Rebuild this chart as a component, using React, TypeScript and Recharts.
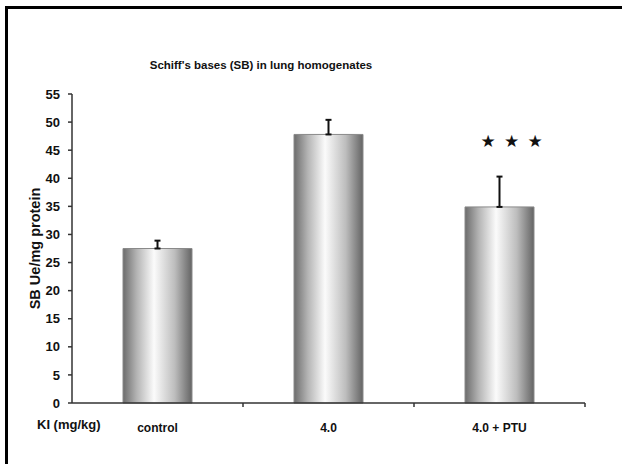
import React from 'react';
import { BarChart, Bar, XAxis, YAxis, ErrorBar, ReferenceDot } from 'recharts';

const groups = ['control', '4.0', '4.0 + PTU'];
const sbValues = [27.5, 47.8, 34.9];
const sbErrors = [1.4, 2.6, 5.4];
const yTicks = [0, 5, 10, 15, 20, 25, 30, 35, 40, 45, 50, 55];
const starGroup = '4.0 + PTU';
const starLevel = 46.7;

const data = groups.map((g, i) => ({ group: g, sb: sbValues[i], err: [0, sbErrors[i]] }));

const font = '"Liberation Sans", Arial, sans-serif';

// category label with the boundary tick drawn at the right edge of each band
const GroupTick = (props: any) => {
  const { x, y, payload, width, visibleTicksCount } = props;
  const half = payload.offset ?? width / visibleTicksCount / 2;
  return (
    <g>
      <line x1={x + half} y1={y - 20} x2={x + half} y2={y - 16} stroke="#333" strokeWidth={1.5} />
      <text x={x} y={y} dy="0.71em" textAnchor="middle" fontSize={12} fontWeight="bold" fill="#111">
        {payload.value}
      </text>
    </g>
  );
};

const Stars = (props: any) => {
  const { cx, cy } = props;
  return (
    <g>
      {[-1, 0, 1].map((k) => (
        <text key={k} x={cx + 12 + k * 23.5} y={cy} dy="0.35em" textAnchor="middle" fontSize={17} fill="#111" fontFamily="DejaVu Sans">
          ★
        </text>
      ))}
    </g>
  );
};

const App: React.FC = () => {
  return (
    <div style={{ position: 'absolute', left: 0, top: 0, width: 622, height: 464, overflow: 'hidden', background: '#fff', fontFamily: font }}>
      <div style={{ position: 'absolute', left: 5, top: 6, width: 640, height: 480, borderTop: '3px solid #000', borderLeft: '3px solid #000' }} />
      <div style={{ position: 'absolute', left: 0, width: 522, top: 58, textAlign: 'center', fontSize: 11.5, fontWeight: 'bold', lineHeight: '15px', color: '#111' }}>
        Schiff's bases (SB) in lung homogenates
      </div>
      <div style={{ position: 'absolute', left: 37, top: 417, fontSize: 13, fontWeight: 'bold', lineHeight: '16px', color: '#111' }}>
        KI (mg/kg)
      </div>
      <div style={{ position: 'absolute', left: 0, top: 0 }}>
        <BarChart width={622} height={464} data={data} margin={{ top: 94, right: 37, bottom: 0, left: 0 }}>
          <defs>
            <linearGradient id="barShade" x1="0" y1="0" x2="1" y2="0">
              <stop offset="0%" stopColor="#6c6c6c" />
              <stop offset="20%" stopColor="#b4b4b4" />
              <stop offset="45%" stopColor="#fbfbfb" />
              <stop offset="75%" stopColor="#bdbdbd" />
              <stop offset="100%" stopColor="#646464" />
            </linearGradient>
          </defs>
          <XAxis
            dataKey="group"
            height={61}
            axisLine={{ stroke: '#333', strokeWidth: 1.5 }}
            tickLine={false}
            tickSize={0}
            tickMargin={20}
            tick={<GroupTick />}
            interval={0}
          />
          <YAxis
            width={72}
            domain={[0, 55]}
            ticks={yTicks}
            interval={0}
            axisLine={{ stroke: '#333', strokeWidth: 1.5 }}
            tickLine={{ stroke: '#333', strokeWidth: 1.5 }}
            tickSize={4}
            tickMargin={8}
            tick={{ fill: '#111', fontSize: 13, fontWeight: 'bold' }}
            label={{ value: 'SB Ue/mg protein', angle: -90, position: 'center', dx: -1, fill: '#111', fontSize: 14.5, fontWeight: 'bold' }}
          />
          <Bar dataKey="sb" barSize={69} fill="url(#barShade)" stroke="#8a8a8a" strokeWidth={1} isAnimationActive={false}>
            <ErrorBar dataKey="err" direction="y" width={3} stroke="#111" strokeWidth={2} />
          </Bar>
          <ReferenceDot x={starGroup} y={starLevel} shape={<Stars />} />
        </BarChart>
      </div>
    </div>
  );
};

export default App;
